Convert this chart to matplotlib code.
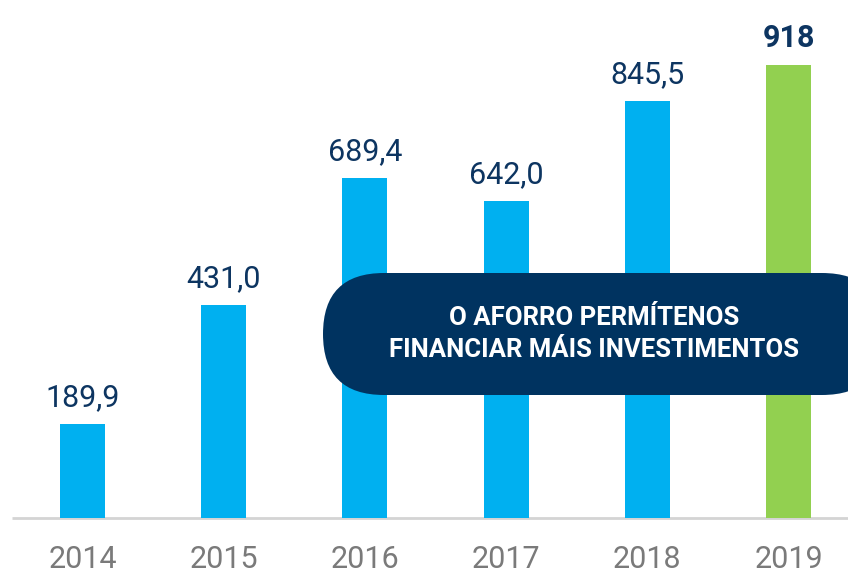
import matplotlib.pyplot as plt
from matplotlib.patches import FancyBboxPatch
from matplotlib.transforms import IdentityTransform

years = ["2014", "2015", "2016", "2017", "2018", "2019"]
values = [189.9, 431.0, 689.4, 642.0, 845.5, 918]
labels = ["189,9", "431,0", "689,4", "642,0", "845,5", "918"]
colors = ["#00b0f0"] * 5 + ["#92d050"]

navy = "#0d3561"
plt.rcParams["font.family"] = ["Roboto", "DejaVu Sans"]

fig = plt.figure(figsize=(8.48, 5.76), dpi=100)
ax = fig.add_axes([0, 0, 1, 1])
ax.set_xlim(-0.584, 5.421)
ax.set_ylim(-117.5, 1049.6)
ax.axis("off")

x = range(len(years))
ax.bar(x, values, width=0.32, color=colors, zorder=2)

# baseline
ax.plot([-0.5, 5.5], [0, 0], color="#d4d4d4", lw=2, zorder=1, solid_capstyle="butt")

for i, (v, lab) in enumerate(zip(values, labels)):
    bold = i == len(values) - 1
    ax.annotate(lab, (i, v), xytext=(0, 13), textcoords="offset points",
                ha="center", va="baseline", fontsize=22, color=navy,
                fontweight="bold" if bold else "normal", zorder=5)
    ax.text(i, -85, years[i], ha="center", va="center", fontsize=22,
            color="#7a7a7a", fontweight="normal")

# callout pill (pixel coordinates)
pill = FancyBboxPatch((323, 181), 560, 122,
                      boxstyle="round,pad=0,rounding_size=61",
                      transform=IdentityTransform(), facecolor="#003360",
                      edgecolor="none", zorder=4)
fig.patches.append(pill)
fig.text(594 / 848, 242 / 576, "O AFORRO PERMÍTENOS\nFINANCIAR MÁIS INVESTIMENTOS",
         ha="center", va="center", color="white", fontsize=18.5,
         fontweight="bold", linespacing=1.4, zorder=6)

fig.savefig("out.png", dpi=100)
